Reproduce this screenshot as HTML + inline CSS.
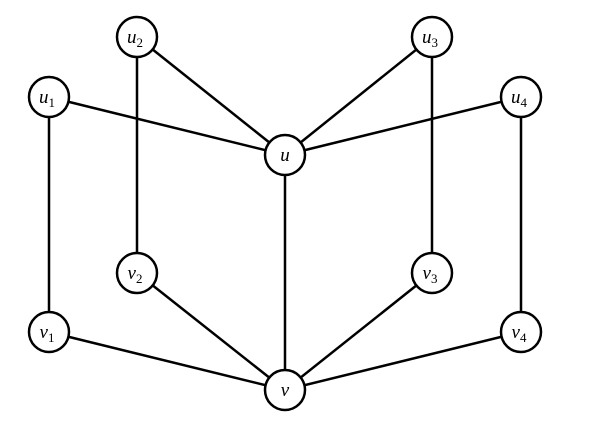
<!DOCTYPE html>
<html><head><style>body{margin:0;background:#fff}</style></head><body>
<svg width="602" height="430" xmlns="http://www.w3.org/2000/svg">
<g stroke="#000" stroke-width="2.5" fill="none">
<line x1="49" y1="97" x2="285" y2="155"/>
<line x1="137" y1="37" x2="285" y2="155"/>
<line x1="432" y1="37" x2="285" y2="155"/>
<line x1="521" y1="97" x2="285" y2="155"/>
<line x1="285" y1="155" x2="285" y2="390"/>
<line x1="49" y1="97" x2="49" y2="332"/>
<line x1="137" y1="37" x2="137" y2="273"/>
<line x1="432" y1="37" x2="432" y2="273"/>
<line x1="521" y1="97" x2="521" y2="332"/>
<line x1="49" y1="332" x2="285" y2="390"/>
<line x1="137" y1="273" x2="285" y2="390"/>
<line x1="432" y1="273" x2="285" y2="390"/>
<line x1="521" y1="332" x2="285" y2="390"/>
</g>
<g stroke="#000" stroke-width="2.5" fill="#fff">
<circle cx="137" cy="37" r="20"/><circle cx="432" cy="37" r="20"/>
<circle cx="49" cy="97" r="20"/><circle cx="521" cy="97" r="20"/>
<circle cx="285" cy="155" r="20"/>
<circle cx="137" cy="273" r="20"/><circle cx="432" cy="273" r="20"/>
<circle cx="49" cy="332" r="20"/><circle cx="521" cy="332" r="20"/>
<circle cx="285" cy="390" r="20"/>
</g>
<g font-family="Liberation Serif, serif" font-style="italic" font-size="19" text-anchor="middle">
<text x="135" y="43">u<tspan font-size="13" font-style="normal" dy="4">2</tspan></text>
<text x="430" y="43">u<tspan font-size="13" font-style="normal" dy="4">3</tspan></text>
<text x="47" y="103">u<tspan font-size="13" font-style="normal" dy="4">1</tspan></text>
<text x="519" y="103">u<tspan font-size="13" font-style="normal" dy="4">4</tspan></text>
<text x="285" y="161">u</text>
<text x="135" y="279">v<tspan font-size="13" font-style="normal" dy="4">2</tspan></text>
<text x="430" y="279">v<tspan font-size="13" font-style="normal" dy="4">3</tspan></text>
<text x="47" y="338">v<tspan font-size="13" font-style="normal" dy="4">1</tspan></text>
<text x="519" y="338">v<tspan font-size="13" font-style="normal" dy="4">4</tspan></text>
<text x="285" y="396">v</text>
</g>
</svg>
</body></html>
